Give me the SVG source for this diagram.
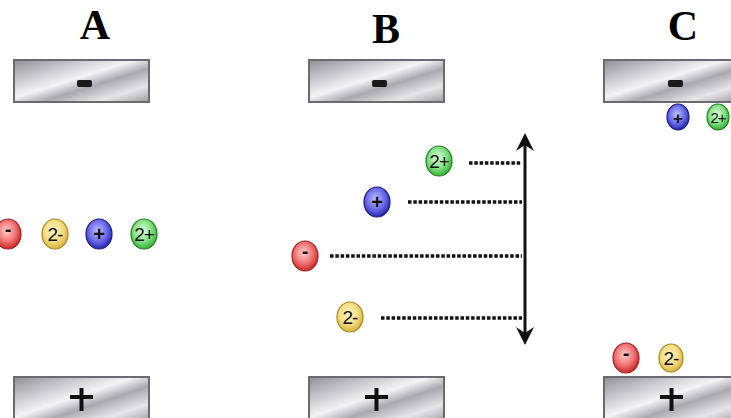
<svg xmlns="http://www.w3.org/2000/svg" width="731" height="418" viewBox="0 0 731 418">
<defs>
<linearGradient id="metal" x1="0" y1="0" x2="1" y2="1">
<stop offset="0" stop-color="#8e8e94"/>
<stop offset="0.25" stop-color="#c8c8cc"/>
<stop offset="0.45" stop-color="#f4f4f6"/>
<stop offset="0.6" stop-color="#a8a8ae"/>
<stop offset="0.8" stop-color="#e6e6ea"/>
<stop offset="1" stop-color="#9a9aa0"/>
</linearGradient>
<radialGradient id="gRed" cx="0.45" cy="0.4" r="0.6">
<stop offset="0" stop-color="#ffd0d0"/>
<stop offset="0.6" stop-color="#f07070"/>
<stop offset="1" stop-color="#c82828"/>
</radialGradient>
<radialGradient id="gYel" cx="0.45" cy="0.4" r="0.6">
<stop offset="0" stop-color="#fff6c8"/>
<stop offset="0.6" stop-color="#f4dc80"/>
<stop offset="1" stop-color="#d8b040"/>
</radialGradient>
<radialGradient id="gBlu" cx="0.45" cy="0.4" r="0.6">
<stop offset="0" stop-color="#c0c0ff"/>
<stop offset="0.6" stop-color="#6868e8"/>
<stop offset="1" stop-color="#2828b0"/>
</radialGradient>
<radialGradient id="gGrn" cx="0.45" cy="0.4" r="0.6">
<stop offset="0" stop-color="#e0ffe0"/>
<stop offset="0.6" stop-color="#80e080"/>
<stop offset="1" stop-color="#38b038"/>
</radialGradient>
</defs>
<style>
.lbl{font-family:"Liberation Serif",serif;font-weight:bold;font-size:42px;fill:#000;text-anchor:middle}
.plate{fill:url(#metal);stroke:#6a6a70;stroke-width:2}
.minus{fill:#1a1a1a}
.plus{stroke:#111;stroke-width:4;fill:none}
.ion{stroke-width:1.2}
.red{fill:url(#gRed);stroke:#a02020}
.yel{fill:url(#gYel);stroke:#a88820}
.blu{fill:url(#gBlu);stroke:#1a1a80}
.grn{fill:url(#gGrn);stroke:#208020}
.it{font-family:"Liberation Sans",Arial,sans-serif;font-size:19px;letter-spacing:-1px;fill:#111;text-anchor:middle}
.itp{font-family:"Liberation Sans",Arial,sans-serif;font-size:20px;font-weight:bold;fill:#111;text-anchor:middle}
.its{font-family:"Liberation Sans",Arial,sans-serif;font-size:15px;letter-spacing:-1px;fill:#111;text-anchor:middle}
.dot{stroke:#111;stroke-width:3.5;stroke-dasharray:3.5 1.8;fill:none}
.arr{stroke:#111;stroke-width:3;fill:none}
.head{fill:#111}
</style>
<rect width="731" height="418" fill="#ffffff"/>

<g id="labels">
<text class="lbl" x="95" y="39">A</text>
<text class="lbl" x="386" y="43">B</text>
<text class="lbl" x="683" y="40">C</text>
</g>

<g id="plateA-top"><rect class="plate" x="14" y="60" width="135" height="42"/><rect class="minus" x="77" y="80" width="15" height="7" rx="2"/></g>
<g id="plateB-top"><rect class="plate" x="309" y="60" width="135" height="42"/><rect class="minus" x="372" y="80" width="15" height="7" rx="2"/></g>
<g id="plateC-top"><rect class="plate" x="604" y="60" width="135" height="42"/><rect class="minus" x="668" y="80" width="15" height="7" rx="2"/></g>

<g id="plateA-bot"><rect class="plate" x="14" y="377" width="135" height="45"/><path class="plus" d="M70,397 H93 M81.5,388 V411"/></g>
<g id="plateB-bot"><rect class="plate" x="309" y="377" width="135" height="45"/><path class="plus" d="M365,397 H388 M376.5,388 V411"/></g>
<g id="plateC-bot"><rect class="plate" x="604" y="377" width="135" height="45"/><path class="plus" d="M660,397 H683 M671.5,388 V411"/></g>

<g id="ionsA">
<g id="A-red"><ellipse class="ion red" cx="8" cy="234" rx="13" ry="15"/><text class="itp" x="8" y="236">-</text></g>
<g id="A-yel"><ellipse class="ion yel" cx="55" cy="234" rx="13" ry="15"/><text class="it" x="55" y="241">2-</text></g>
<g id="A-blu"><ellipse class="ion blu" cx="99" cy="234" rx="13" ry="15"/><text class="itp" x="99" y="241">+</text></g>
<g id="A-grn"><ellipse class="ion grn" cx="144" cy="234" rx="13" ry="15"/><text class="it" x="144" y="241">2+</text></g>
</g>

<g id="ionsB">
<g id="B-grn"><ellipse class="ion grn" cx="439" cy="161" rx="13" ry="15"/><text class="it" x="439" y="168">2+</text></g>
<g id="B-blu"><ellipse class="ion blu" cx="377" cy="202" rx="13" ry="15"/><text class="itp" x="377" y="209">+</text></g>
<g id="B-red"><ellipse class="ion red" cx="305" cy="256" rx="13" ry="15"/><text class="itp" x="305" y="258">-</text></g>
<g id="B-yel"><ellipse class="ion yel" cx="350" cy="317" rx="13" ry="15"/><text class="it" x="350" y="324">2-</text></g>
</g>

<g id="ionsC">
<g id="C-blu"><ellipse class="ion blu" cx="678" cy="117" rx="11" ry="13"/><text class="itp" x="678" y="124" style="font-size:17px">+</text></g>
<g id="C-grn"><ellipse class="ion grn" cx="718" cy="117" rx="11" ry="13"/><text class="its" x="718" y="123">2+</text></g>
<g id="C-red"><ellipse class="ion red" cx="626" cy="358" rx="13" ry="15"/><text class="itp" x="626" y="360">-</text></g>
<g id="C-yel"><ellipse class="ion yel" cx="671" cy="358" rx="12" ry="14"/><text class="it" x="671" y="365">2-</text></g>
</g>

<g id="connectors">
<path class="dot" d="M469,163 H522"/>
<path class="dot" d="M408,202 H522"/>
<path class="dot" d="M330,256 H522"/>
<path class="dot" d="M381,318 H522"/>
<path class="arr" d="M525,142 V336"/>
<path class="head" d="M525,133 L534,151 L525,145 L516,151 Z"/>
<path class="head" d="M525,345 L534,327 L525,333 L516,327 Z"/>
</g>
</svg>
